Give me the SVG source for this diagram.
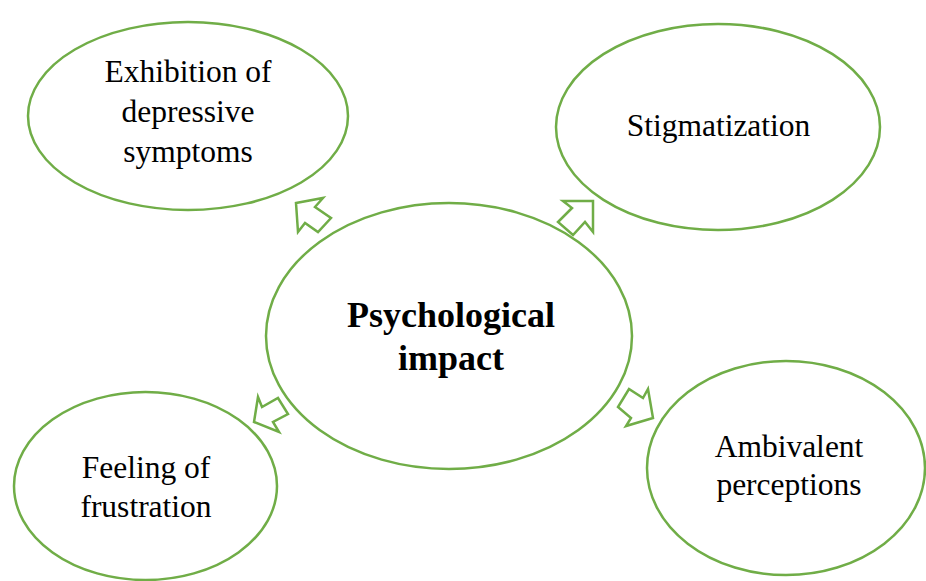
<svg xmlns="http://www.w3.org/2000/svg" width="926" height="581" viewBox="0 0 926 581">
<style>
.n{fill:#fff;stroke:#70AD47;stroke-width:2.5}
.a{fill:#fff;stroke:#70AD47;stroke-width:2.5;stroke-linejoin:miter}
text{font-family:"Liberation Serif","Times New Roman",serif;fill:#000;text-anchor:middle}
.t{font-size:31.5px}
.b{font-size:36px;font-weight:bold}
</style>
<rect width="926" height="581" fill="#fff"/>
<g id="connectors">
<polygon class="a" points="296,203 323,198 315,207 331,218 318,232 305,223 298,232"/>
<polygon class="a" points="563,201 593,201 593,232 585,222 573,235 558,222 572,208"/>
<polygon class="a" points="254,422 258,397 262,407 278,398 288,414 273,422 279,432"/>
<polygon class="a" points="653,418 626,426 631,418 618,407 629,389 643,398 648,389"/>
</g>
<g id="node-depressive">
<ellipse class="n" cx="188" cy="116" rx="160" ry="94"/>
<text class="t" x="188" y="82">Exhibition of</text>
<text class="t" x="188" y="122">depressive</text>
<text class="t" x="188" y="162">symptoms</text>
</g>
<g id="node-stigmatization">
<ellipse class="n" cx="718" cy="127" rx="162" ry="103"/>
<text class="t" x="718.5" y="136">Stigmatization</text>
</g>
<g id="node-center">
<ellipse class="n" cx="449" cy="336" rx="183" ry="133"/>
<text class="b" x="451" y="327">Psychological</text>
<text class="b" x="451" y="370">impact</text>
</g>
<g id="node-frustration">
<ellipse class="n" cx="145.5" cy="486" rx="131.5" ry="94"/>
<text class="t" x="146" y="478">Feeling of</text>
<text class="t" x="146" y="517">frustration</text>
</g>
<g id="node-ambivalent">
<ellipse class="n" cx="786" cy="468" rx="139" ry="107"/>
<text class="t" x="789" y="457">Ambivalent</text>
<text class="t" x="789" y="495">perceptions</text>
</g>
</svg>
